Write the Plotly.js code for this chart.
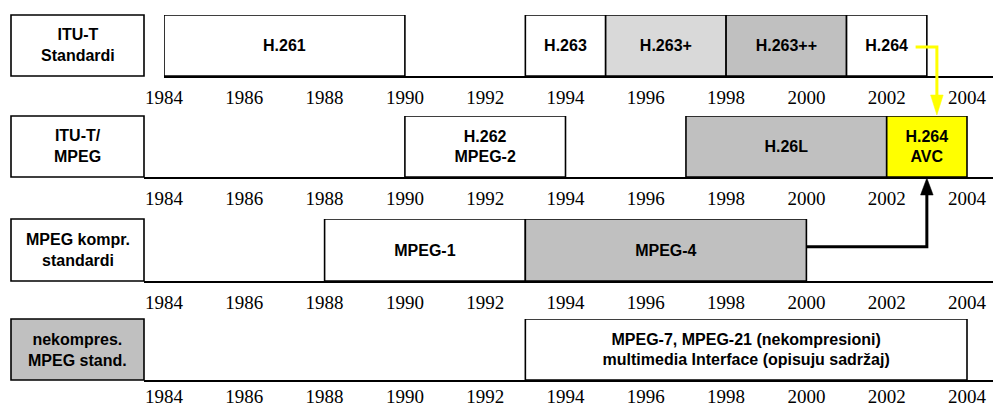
<!DOCTYPE html>
<html>
<head>
<meta charset="utf-8">
<script src="https://cdn.plot.ly/plotly-3.0.1.min.js"></script>
<style>html,body{margin:0;padding:0;background:#fff;}#chart{width:993px;height:406px;}</style>
</head>
<body>
<div id="chart"></div>
<script>
// ---------- data ----------
const tickYears = [1984, 1986, 1988, 1990, 1992, 1994, 1996, 1998, 2000, 2002, 2004];
const tickText = ['1984', '1986', '1988', '1990', '1992', '1994', '1996', '1998', '2000', '2002', '2004'];

const rowLabels = ['ITU-T<br>Standardi', 'ITU-T/<br>MPEG', 'MPEG kompr.<br>standardi', 'nekompres.<br>MPEG stand.'];
const rowLabelColors = ['#ffffff', '#ffffff', '#ffffff', '#c0c0c0'];

const row1Names = ['H.261', 'H.263', 'H.263+', 'H.263++', 'H.264'];
const row1Start = [1984, 1993, 1995, 1998, 2001];
const row1End = [1990, 1995, 1998, 2001, 2003];
const row1Colors = ['#ffffff', '#ffffff', '#d9d9d9', '#c0c0c0', '#ffffff'];

const row2Names = ['H.262<br>MPEG-2', 'H.26L', 'H.264<br>AVC'];
const row2Start = [1990, 1997, 2002];
const row2End = [1994, 2002, 2004];
const row2Colors = ['#ffffff', '#c0c0c0', '#ffff00'];

const row3Names = ['MPEG-1', 'MPEG-4'];
const row3Start = [1988, 1993];
const row3End = [1993, 2000];
const row3Colors = ['#ffffff', '#c0c0c0'];

const row4Names = ['MPEG-7, MPEG-21 (nekompresioni)<br>multimedia Interface (opisuju sadržaj)'];
const row4Start = [1993];
const row4End = [2004];
const row4Colors = ['#ffffff'];

// ---------- layout geometry ----------
const W = 993, H = 406;
const pxPerYear = 40.15, px1984 = 164;
const yearAt = px => 1984 + (px - px1984) / pxPerYear;
const rowBoxPx = [[15, 76], [116, 177], [219, 281], [319, 380]]; // top, bottom (px)
const axisStartPx = [164, 144, 144, 144];
const labelBoxPx = [11, 144];
const standoffs = [3, 3, 3, -2];

const boldFont = {family: 'Liberation Sans, Arial, sans-serif', size: 16, color: '#000', weight: 'bold'};
const tickFont = {family: 'Liberation Serif, Times New Roman, serif', size: 19, color: '#000'};

const rows = [
  {names: row1Names, start: row1Start, end: row1End, colors: row1Colors},
  {names: row2Names, start: row2Start, end: row2End, colors: row2Colors},
  {names: row3Names, start: row3Start, end: row3End, colors: row3Colors},
  {names: row4Names, start: row4Start, end: row4End, colors: row4Colors}
];

const paperY = px => (H - px) / H;
const dom = i => [paperY(rowBoxPx[i][1]), paperY(rowBoxPx[i][0])];
const midY = i => (dom(i)[0] + dom(i)[1]) / 2;

const traces = rows.map((r, i) => ({
  type: 'bar',
  orientation: 'h',
  xaxis: i === 0 ? 'x' : 'x' + (i + 1),
  yaxis: i === 0 ? 'y' : 'y' + (i + 1),
  y: r.names.map(() => 0.5),
  base: r.start,
  x: r.end.map((e, k) => e - r.start[k]),
  width: r.names.map(() => 1),
  text: r.names,
  textposition: 'inside',
  insidetextanchor: 'middle',
  constraintext: 'none',
  textangle: 0,
  textfont: boldFont,
  insidetextfont: boldFont,
  cliponaxis: false,
  marker: {color: r.colors, line: {color: '#000', width: 1.6}},
  hoverinfo: 'skip'
}));

const layout = {
  width: W, height: H,
  margin: {l: 0, r: 0, t: 0, b: 0},
  paper_bgcolor: '#fff', plot_bgcolor: 'rgba(0,0,0,0)',
  showlegend: false, hovermode: false, dragmode: false,
  bargap: 0,
  shapes: [], annotations: []
};

for (let i = 0; i < 4; i++) {
  const sx = i === 0 ? '' : String(i + 1);
  layout['xaxis' + sx] = {
    domain: [axisStartPx[i] / W, 1],
    range: [yearAt(axisStartPx[i]), yearAt(W)],
    anchor: 'y' + sx,
    side: 'bottom',
    showline: true, linecolor: '#000', linewidth: 2,
    showgrid: false, zeroline: false, ticks: '',
    tickmode: 'array', tickvals: tickYears, ticktext: tickText,
    tickfont: tickFont, ticklabelstandoff: standoffs[i],
    fixedrange: true
  };
  layout['yaxis' + sx] = {
    domain: dom(i), range: [0, 1], anchor: 'x' + sx,
    visible: false, fixedrange: true
  };
  // row label box
  layout.shapes.push({
    type: 'rect', xref: 'paper', yref: 'paper',
    x0: labelBoxPx[0] / W, x1: labelBoxPx[1] / W,
    y0: dom(i)[0], y1: dom(i)[1],
    line: {color: '#000', width: 1.6}, fillcolor: rowLabelColors[i], layer: 'below'
  });
  layout.annotations.push({
    xref: 'paper', yref: 'paper',
    x: (labelBoxPx[0] + labelBoxPx[1]) / 2 / W, y: midY(i),
    xanchor: 'center', yanchor: 'middle',
    text: rowLabels[i], showarrow: false, font: boldFont, align: 'center'
  });
}

// connectors (yellow: H.264 -> H.264 AVC, black: MPEG-4 -> H.264 AVC)
const yellowX0 = 2002.72, yellowX = 2003.25, blackX = 2003.0;
layout.shapes.push({
  type: 'path', xref: 'x', yref: 'paper',
  path: `M${yellowX0},${midY(0) - 0.004} L${yellowX},${midY(0) - 0.004} L${yellowX},${dom(1)[1] + 16 / H}`,
  line: {color: '#ffff00', width: 3}
});
layout.shapes.push({
  type: 'path', xref: 'x', yref: 'paper', xsizemode: 'pixel', ysizemode: 'pixel',
  xanchor: yellowX, yanchor: dom(1)[1] + 1 / H,
  path: 'M0,0 L-6.3,20 L6.3,20 Z',
  line: {color: '#ffff00', width: 0.5}, fillcolor: '#ffff00'
});
layout.shapes.push({
  type: 'path', xref: 'x', yref: 'paper',
  path: `M${row3End[1]},${midY(2) + 0.008} L${blackX},${midY(2) + 0.008} L${blackX},${dom(1)[0] - 14 / H}`,
  line: {color: '#000', width: 3}
});
layout.shapes.push({
  type: 'path', xref: 'x', yref: 'paper', xsizemode: 'pixel', ysizemode: 'pixel',
  xanchor: blackX, yanchor: dom(1)[0] - 1 / H,
  path: 'M0,0 L-6.3,-17 L6.3,-17 Z',
  line: {color: '#000', width: 0.5}, fillcolor: '#000'
});

Plotly.newPlot('chart', traces, layout, {staticPlot: true, displayModeBar: false});
</script>
</body>
</html>
